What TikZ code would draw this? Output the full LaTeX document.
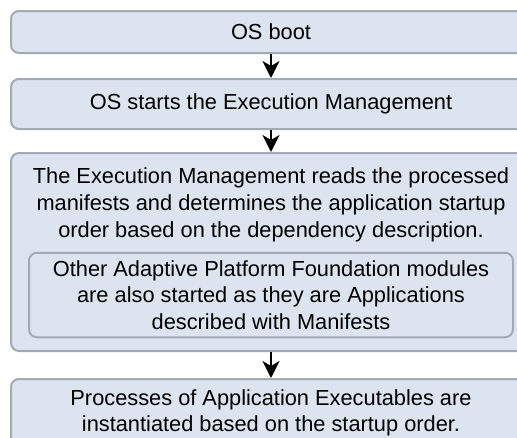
\documentclass[tikz,border=0pt]{standalone}
\usepackage{fontspec}
\setmainfont{Liberation Sans}
\usetikzlibrary{positioning,arrows.meta}
\definecolor{boxfill}{RGB}{220,229,239}
\definecolor{boxline}{RGB}{163,170,178}

\begin{document}
\begin{tikzpicture}[node distance=72pt,on grid,
  font=\fontsize{21.8}{26.7}\selectfont,
  stage/.style={draw=boxline,line width=2pt,fill=boxfill,rounded corners=8pt,
    minimum width=520pt,align=center,inner sep=0pt},
  sub/.style={stage,minimum width=484pt},
  flow/.style={-{Stealth[length=17pt,width=17pt,inset=5pt]},line width=2.5pt,black}]
  \useasboundingbox (0,0) rectangle (517pt,-437pt);
  \node[stage,minimum height=42pt] (boot) at (271pt,-32pt) {OS boot};
  \node[stage,minimum height=50pt] (start) [below=of boot] {OS starts the Execution Management};
  \node[stage,minimum height=198pt] (load) [below=148pt of start] {};
  \node[align=center,inner sep=0pt] (loadtxt) at ([yshift=-53pt]load.north) {The Execution Management reads the processed\\
    manifests and determines the application startup\\
    order based on the dependency description.};
  \node[sub,minimum height=84.5pt] (apf) [below=43pt of load] {Other Adaptive Platform Foundation modules\\
    are also started as they are Applications\\
    described with Manifests};
  \node[stage,minimum height=68pt] (spawn) [below=161pt of load] {Processes of Application Executables are\\
    instantiated based on the startup order.};
  \path[flow]
  (boot) edge (start)
  (start) edge (load)
  (load) edge (spawn)
  ;
\end{tikzpicture}
\end{document}
